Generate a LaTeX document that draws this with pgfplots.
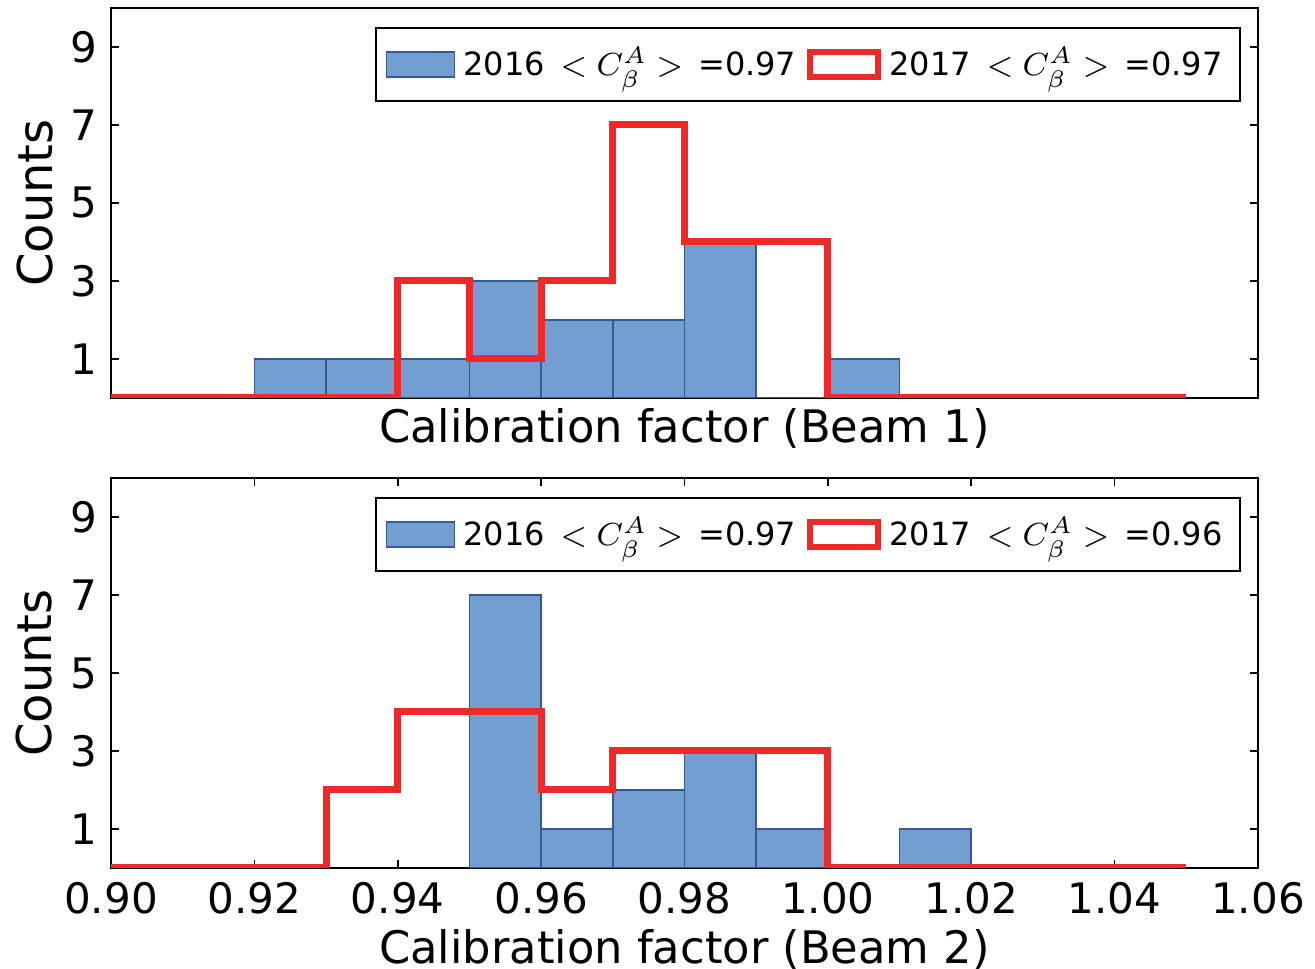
\documentclass[border=0pt]{standalone}
\usepackage{pgfplots}
\pgfplotsset{compat=1.18}
\usepackage{fontspec}
\setmainfont{DejaVu Sans}
\definecolor{barblue}{RGB}{114,159,207}
\definecolor{baredge}{RGB}{52,90,150}
\definecolor{stepred}{RGB}{238,41,41}

\pgfplotsset{
 hist/.style={
  scale only axis, width=286.75pt, height=97.5pt,
  xmin=0.90, xmax=1.06, ymin=0, ymax=10,
  ytick={1,3,5,7,9},
  tick align=inside, major tick length=2pt,
  axis line style={line width=0.5pt},
  every tick/.style={black, line width=0.4pt},
  ticklabel style={font=\fontsize{10.5}{12}\selectfont},
  xlabel style={font=\fontsize{11.2}{13}\selectfont},
  ylabel style={font=\fontsize{12}{14}\selectfont, xshift=0pt, yshift=-2.5pt},
  ylabel=Counts,
  /pgf/number format/assume math mode=true,
  scaled x ticks=false,
  legend columns=2,
  legend cell align=left,
  legend style={at={(1,1)}, anchor=north east, xshift=-4.25pt, yshift=-4.75pt,
    font=\fontsize{8}{10}\selectfont, draw=black, line width=0.5pt,
    inner xsep=2.4pt, inner ysep=2.9pt,
    /tikz/every even column/.append style={column sep=0.8pt}},
 },
 bluebar/.style={ybar interval, fill=barblue, draw=baredge, line width=0.4pt,
   legend image code/.code={\draw[fill=barblue, draw=baredge, line width=0.4pt] (0pt,-3.1pt) rectangle (17pt,3.1pt);}},
 redstep/.style={const plot, draw=stepred, line width=1.75pt, line join=miter,
   legend image code/.code={\draw[draw=stepred, line width=1.5pt] (0pt,-3.1pt) rectangle (17pt,3.1pt);}},
}
\newcommand{\cab}{$\,<C^A_\beta>\;\,$}

\begin{document}
\begin{tikzpicture}
\useasboundingbox (-27.75pt,-240.25pt) rectangle (301pt,2pt);
\begin{axis}[hist, at={(0pt,0pt)}, anchor=north west,
  xtick=\empty,
  xlabel style={yshift=1pt},
  xlabel={Calibration factor (Beam 1)}]
\addplot[bluebar] coordinates {(0.92,1)(0.93,1)(0.94,1)(0.95,3)(0.96,2)(0.97,2)(0.98,4)(0.99,0)(1.00,1)(1.01,0)};
\addlegendentry{2016 \cab =0.97}
\addplot[redstep] coordinates {(0.90,0)(0.94,3)(0.95,1)(0.96,3)(0.97,7)(0.98,4)(1.00,0)(1.05,0)};
\addlegendentry{2017 \cab =0.97}
\end{axis}
\begin{axis}[hist, at={(0pt,-117.5pt)}, anchor=north west,
  xtick={0.90,0.92,0.94,0.96,0.98,1.00,1.02,1.04,1.06},
  xticklabel style={/pgf/number format/.cd, fixed, fixed zerofill, precision=2},
  xlabel style={yshift=3pt},
  xlabel={Calibration factor (Beam 2)}]
\addplot[bluebar] coordinates {(0.95,7)(0.96,1)(0.97,2)(0.98,3)(0.99,1)(1.00,0)(1.01,1)(1.02,0)};
\addlegendentry{2016 \cab =0.97}
\addplot[redstep] coordinates {(0.90,0)(0.93,2)(0.94,4)(0.96,2)(0.97,3)(1.00,0)(1.05,0)};
\addlegendentry{2017 \cab =0.96}
\end{axis}
\end{tikzpicture}
\end{document}
